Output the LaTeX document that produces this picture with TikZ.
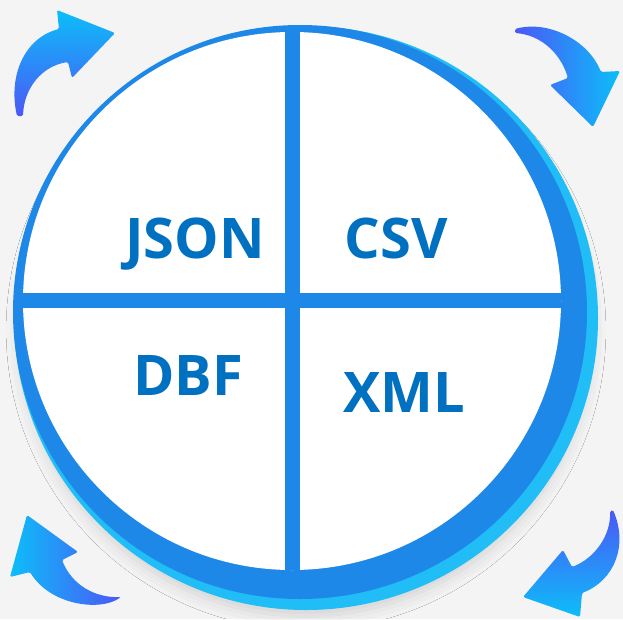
\documentclass[tikz,border=0pt]{standalone}
\usepackage{fontspec}
\setmainfont{Open Sans}
\usetikzlibrary{shadows.blur}

\definecolor{bgray}{HTML}{F4F4F4}
\definecolor{ringblue}{HTML}{1E88E8}
\definecolor{ringcyan}{HTML}{20BDF6}
\definecolor{fmtblue}{HTML}{0070C0}
\definecolor{arrcyan}{HTML}{0CBEF9}
\definecolor{arrviolet}{HTML}{4B58F6}

\tikzset{
  fmt/.style={font=\fontsize{56}{56}\selectfont\bfseries, text=fmtblue, anchor=base, inner sep=0pt},
  turn/.style={rounded corners=1.5pt}
}

\begin{document}
\begin{tikzpicture}[x=1pt,y=-1pt]
% Canvas
\fill[bgray] (0,0) rectangle (623,619);
\useasboundingbox (0,0) rectangle (623,619);

% Ring
\fill[ringcyan, blur shadow={shadow xshift=0pt, shadow yshift=-12pt, shadow scale=0.98, shadow blur radius=14pt, shadow opacity=14}] (306,318) circle[radius=292pt];
\fill[ringblue] (300,312) circle[radius=287pt];
\fill[white] (292,301) circle[radius=269pt];

% Cross
\begin{scope}
\clip (292,301) circle[radius=269pt];
\draw[ringblue, line width=15pt] (292,20) -- (292,580);
\draw[ringblue, line width=15pt] (10,300) -- (580,300);
\end{scope}

% Formats
\node[fmt] (json) at (195,258) {JSON};
\node[fmt] (csv) at (396,258) {CSV};
\node[fmt] (dbf) at (188,395) {DBF};
\node[fmt] (xml) at (404,412) {XML};

% Turning arrows
\shade[turn, top color=arrcyan, bottom color=arrviolet] (17,116) .. controls (8,75) and (25,38) .. (59,29) -- (57,10) -- (115,33) -- (72,78) -- (68,62) .. controls (42,66) and (24,88) .. (23,116) -- cycle;
\shade[turn, left color=arrviolet, right color=arrcyan] (515,29) .. controls (548,20) and (588,40) .. (601,72) -- (620,71) -- (593,127) -- (550,85) -- (568,78) .. controls (560,52) and (540,35) .. (515,33) -- cycle;
\shade[turn, left color=arrcyan, right color=arrviolet] (27,515) -- (78,552) -- (62,560) .. controls (72,585) and (95,598) .. (121,597) .. controls (100,612) and (50,605) .. (30,572) -- (10,577) -- cycle;
\shade[turn, top color=arrviolet, bottom color=arrcyan] (613,510) .. controls (628,545) and (615,580) .. (582,593) -- (580,617) -- (523,597) -- (563,550) -- (572,567) .. controls (595,558) and (611,535) .. (610,511) -- cycle;
\end{tikzpicture}
\end{document}
